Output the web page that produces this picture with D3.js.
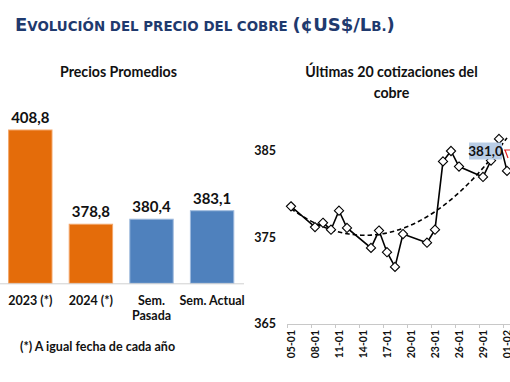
<!DOCTYPE html>
<html>
<head>
<meta charset="utf-8">
<script src="https://cdn.jsdelivr.net/npm/d3@7/dist/d3.min.js"></script>
<style>
  html, body { margin: 0; padding: 0; background: #ffffff; }
  svg { display: block; }
</style>
</head>
<body>
<svg id="chart" width="510" height="382"></svg>
<script>
// ---------- DATA ----------
const barCategories = ["2023 (*)", "2024 (*)", "Sem.|Pasada", "Sem. Actual"];
const barValues = [408.8, 378.8, 380.4, 383.1];
const barLabels = ["408,8", "378,8", "380,4", "383,1"];
const barColors = ["#E46C0A", "#E46C0A", "#4F81BD", "#4F81BD"];

const quoteDates = ["2024-01-05","2024-01-08","2024-01-09","2024-01-10","2024-01-11","2024-01-12",
  "2024-01-15","2024-01-16","2024-01-17","2024-01-18","2024-01-19","2024-01-22","2024-01-23",
  "2024-01-24","2024-01-25","2024-01-26","2024-01-29","2024-01-30","2024-01-31","2024-02-01"];
const quoteValues = [378.6, 376.2, 376.7, 375.9, 378.1, 376.1, 373.8, 375.8, 373.3, 371.6, 375.4,
  374.4, 375.9, 383.8, 385.0, 383.2, 382.0, 383.9, 386.4, 382.7];
const yTickValues = [365, 375, 385];
const xTickDates = ["2024-01-05","2024-01-08","2024-01-11","2024-01-14","2024-01-17","2024-01-20",
  "2024-01-23","2024-01-26","2024-01-29","2024-02-01","2024-02-04"];
const calloutText = "381,0";

const titleParts = [["E", "big"], ["VOLUCIÓN DEL PRECIO DEL COBRE ", "small"], ["(¢US$/L", "big"], ["B.", "small"], [")", "big"]];
const leftTitle = "Precios Promedios";
const rightTitle = ["Últimas 20 cotizaciones del", "cobre"];
const footnote = "(*) A igual fecha de cada año";

// ---------- SETUP ----------
const svg = d3.select("#chart");
const FONT = "Lato, 'Open Sans', sans-serif";
const TXT = "#111111";

// Title
const title = svg.append("text")
  .attr("x", 15).attr("y", 31)
  .attr("font-family", "'DejaVu Sans', Verdana, sans-serif")
  .attr("font-weight", "bold")
  .attr("fill", "#1f3a6e");
titleParts.forEach(([t, s]) => {
  title.append("tspan").attr("font-size", s === "big" ? 18 : 13.4).text(t);
});

// ---------- LEFT: bar chart ----------
const bx = d3.scaleBand().domain(barCategories).range([0, 242.4]).paddingInner(0.284).paddingOuter(0.142);
const by = d3.scaleLinear().domain([360, 408.8]).range([283.3, 130]);

svg.append("text")
  .attr("x", 118.5).attr("y", 77)
  .attr("text-anchor", "middle")
  .attr("font-family", FONT).attr("font-weight", "bold").attr("font-size", 14.2)
  .attr("fill", TXT).text(leftTitle);

svg.append("g").selectAll("rect")
  .data(barCategories)
  .join("rect")
  .attr("x", d => bx(d))
  .attr("y", (d, i) => by(barValues[i]))
  .attr("width", bx.bandwidth())
  .attr("height", (d, i) => by.range()[0] - by(barValues[i]))
  .attr("fill", (d, i) => barColors[i])
  .attr("stroke", (d, i) => i < 2 ? "#F3A66A" : "#9DB9DD")
  .attr("stroke-width", 1);

svg.append("line")
  .attr("x1", 0).attr("x2", 244)
  .attr("y1", 283.8).attr("y2", 283.8)
  .attr("stroke", "#d0d0d0").attr("stroke-width", 1);

svg.append("g").selectAll("text")
  .data(barCategories)
  .join("text")
  .attr("x", d => bx(d) + bx.bandwidth() / 2)
  .attr("y", (d, i) => by(barValues[i]) - 7)
  .attr("text-anchor", "middle")
  .attr("font-family", FONT).attr("font-weight", "bold").attr("font-size", 15)
  .attr("fill", TXT)
  .text((d, i) => barLabels[i]);

const catG = svg.append("g");
barCategories.forEach(c => {
  const lines = c.split("|");
  const t = catG.append("text")
    .attr("x", bx(c) + bx.bandwidth() / 2)
    .attr("y", 305)
    .attr("text-anchor", "middle")
    .attr("font-family", FONT).attr("font-weight", "bold").attr("font-size", 12.5)
    .attr("fill", TXT);
  lines.forEach((l, k) => {
    t.append("tspan").attr("x", bx(c) + bx.bandwidth() / 2).attr("dy", k === 0 ? 0 : 14.5).text(l);
  });
});

svg.append("text")
  .attr("x", 20).attr("y", 351)
  .attr("font-family", FONT).attr("font-weight", "bold").attr("font-size", 12.5)
  .attr("fill", TXT).text(footnote);

// ---------- RIGHT: line chart ----------
const parse = d3.utcParse("%Y-%m-%d");
const dates = quoteDates.map(parse);
const x = d3.scaleUtc().domain([parse("2024-01-05"), parse("2024-02-04")]).range([287, 527]);
const dayW = x(parse("2024-01-06")) - x(parse("2024-01-05"));
const px = d => x(d) + dayW / 2;
const y = d3.scaleLinear().domain([365, 390]).range([324, 107.75]);

svg.append("g").selectAll("text")
  .data(rightTitle)
  .join("text")
  .attr("x", 391.5)
  .attr("y", (d, i) => 77 + i * 21)
  .attr("text-anchor", "middle")
  .attr("font-family", FONT).attr("font-weight", "bold").attr("font-size", 14.2)
  .attr("fill", TXT).text(d => d);

// y labels
svg.append("g").selectAll("text")
  .data(yTickValues)
  .join("text")
  .attr("x", 276).attr("y", d => y(d))
  .attr("dy", "0.35em")
  .attr("text-anchor", "end")
  .attr("font-family", FONT).attr("font-weight", "bold").attr("font-size", 12.5)
  .attr("fill", TXT).text(d => d);

// x axis
const xAxis = d3.axisBottom(x)
  .tickValues(xTickDates.map(parse))
  .tickSize(4)
  .tickFormat("");
const ax = svg.append("g").attr("transform", "translate(0,324)").call(xAxis);
ax.select(".domain").attr("stroke", "#c8c8c8");
ax.selectAll(".tick line").attr("stroke", "#c8c8c8");

svg.append("g").selectAll("text")
  .data(xTickDates.map(parse))
  .join("text")
  .attr("transform", d => `translate(${px(d)},330) rotate(-90)`)
  .attr("dy", "0.35em")
  .attr("text-anchor", "end")
  .attr("font-family", FONT).attr("font-weight", "bold").attr("font-size", 10.5)
  .attr("fill", TXT).text(d => d3.utcFormat("%d-%m")(d));

// trendline: polynomial order 2 least squares fit of the series
const xs = dates.map(d => (d - dates[0]) / 86400000);
function polyfit2(X, Y) {
  const n = X.length;
  let s = [0, 0, 0, 0, 0], t = [0, 0, 0];
  for (let i = 0; i < n; i++) {
    let p = 1;
    for (let k = 0; k < 5; k++) { s[k] += p; if (k < 3) t[k] += p * Y[i]; p *= X[i]; }
  }
  const A = [[s[0], s[1], s[2], t[0]], [s[1], s[2], s[3], t[1]], [s[2], s[3], s[4], t[2]]];
  for (let c = 0; c < 3; c++) {
    for (let r = c + 1; r < 3; r++) {
      const f = A[r][c] / A[c][c];
      for (let k = c; k < 4; k++) A[r][k] -= f * A[c][k];
    }
  }
  const b = [0, 0, 0];
  for (let r = 2; r >= 0; r--) {
    let v = A[r][3];
    for (let k = r + 1; k < 3; k++) v -= A[r][k] * b[k];
    b[r] = v / A[r][r];
  }
  return b;
}
const coef = polyfit2(xs, quoteValues);
const trendPts = d3.range(0, xs[xs.length - 1] + 0.01, 0.25).map(t => [t, coef[0] + coef[1] * t + coef[2] * t * t]);
const x0 = px(dates[0]);
svg.append("path")
  .attr("d", d3.line().x(d => x0 + d[0] * dayW).y(d => y(d[1]))(trendPts))
  .attr("fill", "none").attr("stroke", "#000").attr("stroke-width", 1.6)
  .attr("stroke-dasharray", "4.5,3");

// series line
svg.append("path")
  .attr("d", d3.line().x((d, i) => px(dates[i])).y(d => y(d))(quoteValues))
  .attr("fill", "none").attr("stroke", "#000").attr("stroke-width", 1.6);

// markers
const r = 4.6;
svg.append("g").selectAll("path")
  .data(quoteValues)
  .join("path")
  .attr("d", (d, i) => {
    const cx = px(dates[i]), cy = y(d);
    return `M${cx},${cy - r}L${cx + r},${cy}L${cx},${cy + r}L${cx - r},${cy}Z`;
  })
  .attr("fill", "#fff").attr("stroke", "#000").attr("stroke-width", 1.1);

// callout label
const ci = quoteDates.indexOf("2024-01-30");
const cxL = px(dates[ci]) - 5.5, cyL = y(quoteValues[ci]) - 9.5;
svg.append("rect")
  .attr("x", cxL - 16.5).attr("y", cyL - 8.5).attr("width", 33).attr("height", 17)
  .attr("fill", "#b9cde5");
svg.append("text")
  .attr("x", cxL).attr("y", cyL).attr("dy", "0.36em")
  .attr("text-anchor", "middle")
  .attr("font-family", FONT).attr("font-weight", "bold").attr("font-size", 13.5)
  .attr("fill", TXT).text(calloutText);

// red partial element at the right edge
const lx = px(dates[dates.length - 1]);
svg.append("path")
  .attr("d", `M${lx - 3},${cyL - 1}L${lx + 4},${cyL - 1}M${lx - 2},${cyL - 1}L${lx + 1},${cyL + 7}`)
  .attr("fill", "none").attr("stroke", "#e02020").attr("stroke-width", 1.2);
</script>
</body>
</html>
